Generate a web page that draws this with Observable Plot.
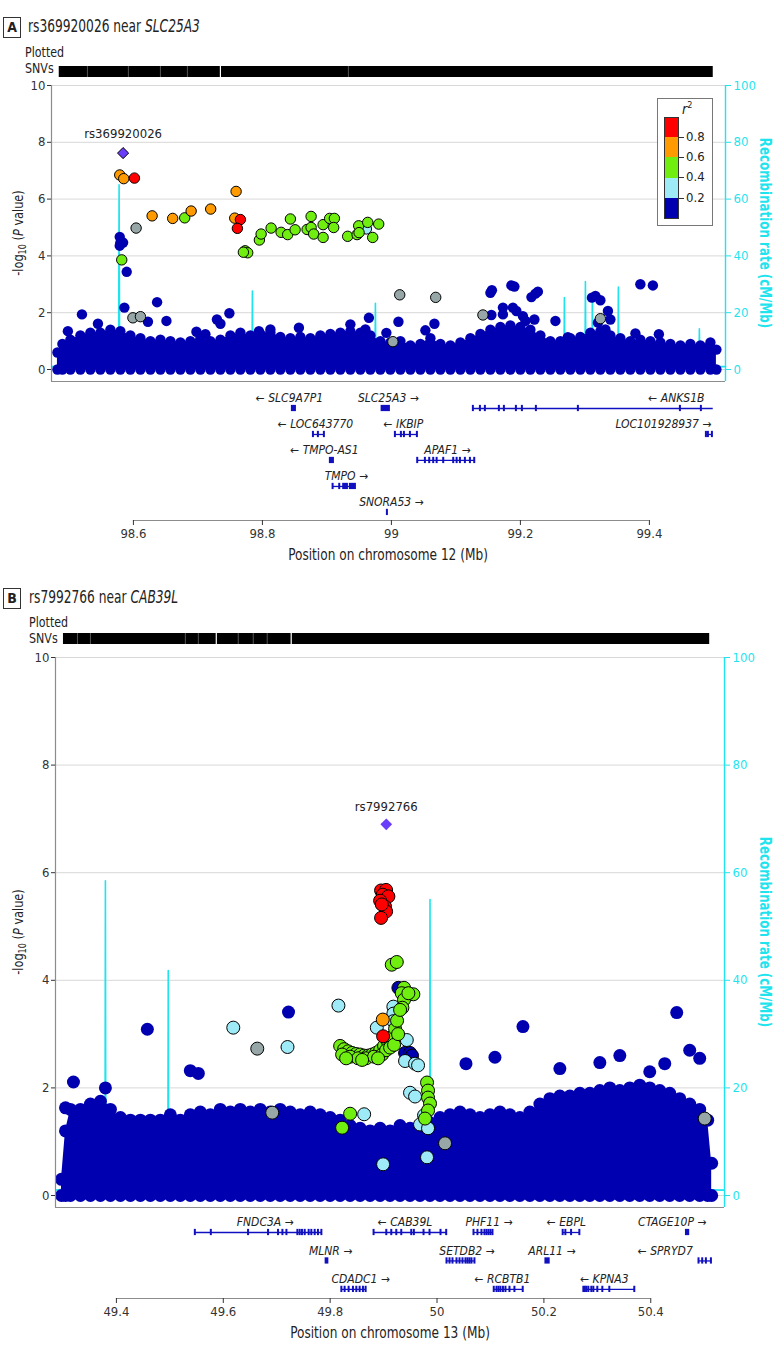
<!DOCTYPE html>
<html><head><meta charset="utf-8">
<script src="https://cdn.jsdelivr.net/npm/d3@7"></script>
<script src="https://cdn.jsdelivr.net/npm/@observablehq/plot@0.6"></script>
<style>
body{margin:0;background:#fff;}
#root{position:relative;width:783px;height:1352px;overflow:hidden;font-family:'DejaVu Sans Condensed','DejaVu Sans',sans-serif;color:#222;}
.a{position:absolute;white-space:nowrap;}
</style></head><body><div id="root"></div>
<script>
// ---------------- DATA ----------------
const FONT = "'DejaVu Sans Condensed','DejaVu Sans',sans-serif";
const yTicks = [0, 2, 4, 6, 8, 10];
const ldDomain = [-1, 0, 1, 2, 3, 4];
const ldColors = ["#97A7A8", "#0000B0", "#9EEBF7", "#70EE10", "#FF9A00", "#FF0000"];
const r2Breaks = ["0.8", "0.6", "0.4", "0.2"];
const cyan = "#1FE4EE";

// Panel A: chr12
const titleA = "rs369920026";
const geneTitleA = "SLC25A3";
const leadA = {pos: 98.5840, logp: 7.62};
const posTicksA = [98.6, 98.8, 99.0, 99.2, 99.4];
const snvSpanA = [98.485, 99.499];
const snvGapsA = [98.5287, 98.5922, 98.6419, 98.6837, 98.9333];
const snvWideGapsA = [98.7349];
const posA = [98.5788,98.5850,98.6016,98.6042,98.5819,98.6290,98.6609,98.6795,98.6895,98.7198,98.7592,98.7571,98.7659,98.7612,98.7732,98.7772,98.7705,98.7953,98.7980,98.8135,98.8290,98.8392,98.8434,98.8507,98.8693,98.8755,98.8755,98.8795,98.8941,98.8941,98.9043,98.9116,98.9105,98.9322,98.9468,98.9493,98.9499,98.9612,98.9633,98.9710,98.9803,99.0129,99.0687,98.5992,98.6109,99.0023,99.1419,99.3240,
 98.5788,98.5798,98.5840,98.5788,98.5896,98.5860,98.6367,98.5202,98.6225,98.6512,98.5450,98.7295,98.7349,98.7488,98.6977,98.7116,98.7946,98.8124,98.8566,98.9364,98.9651,98.9597,98.9922,99.0109,99.0667,99.0527,99.1535,99.1558,99.1860,99.1907,99.1550,99.1729,99.1729,99.1884,99.1938,99.2039,99.2078,99.2217,99.2233,99.2271,99.2171,99.2543,99.2736,99.3109,99.3163,99.3240,99.3202,99.3318,99.3357,99.3395,99.3860,99.4054,99.3783,99.4147,98.4984];
const logpA = [6.85,6.72,6.74,4.98,3.86,5.41,5.32,5.34,5.58,5.65,6.27,5.33,5.28,4.97,4.18,4.11,4.13,4.56,4.77,4.98,4.83,4.75,5.30,4.92,4.93,5.39,5.00,4.77,4.65,5.10,5.32,5.32,5.00,4.69,4.75,5.06,4.82,4.95,5.18,4.65,5.12,2.63,2.54,1.82,1.86,0.98,1.92,1.79,
 4.67,4.47,4.47,4.36,3.44,2.18,2.37,1.94,1.68,1.71,1.61,1.76,1.61,1.98,1.33,1.24,1.35,1.41,1.47,1.59,1.82,1.41,1.29,1.68,1.61,1.38,2.70,2.79,2.96,2.92,1.92,2.18,1.94,2.18,2.06,1.88,1.71,1.76,2.67,2.74,2.55,1.71,1.14,2.53,2.59,2.44,1.65,1.41,2.06,1.76,3.00,2.96,1.27,1.24,1.35];
const ldA = [3,3,4,-1,2,3,3,2,3,3,3,3,4,4,2,2,2,2,2,2,2,2,2,2,2,2,2,2,2,2,2,2,2,2,2,2,2,1,2,2,2,-1,-1,-1,-1,-1,-1,-1,
 0,0,0,0,0,0,0,0,0,0,0,0,0,0,0,0,0,0,0,0,0,0,0,0,0,0,0,0,0,0,0,0,0,0,0,0,0,0,0,0,0,0,0,0,0,0,0,0,0,0,0,0,0,0,0];
// top edge of the dense cloud of low-significance SNVs
const massPosA = [98.4822,98.4899,98.5023,98.5178,98.5333,98.5488,98.5643,98.5798,98.5953,98.6109,98.6264,98.6419,98.6574,98.6729,98.6884,98.7039,98.7194,98.7349,98.7504,98.7659,98.7814,98.7969,98.8124,98.8279,98.8434,98.8589,98.8744,98.8899,98.9054,98.9209,98.9364,98.9519,98.9674,98.9829,98.9984,99.0140,99.0295,99.0450,99.0605,99.0760,99.0915,99.1070,99.1225,99.1380,99.1535,99.1690,99.1845,99.2000,99.2155,99.2310,99.2465,99.2620,99.2775,99.2930,99.3085,99.3240,99.3395,99.3550,99.3705,99.3860,99.4016,99.4171,99.4326,99.4481,99.4636,99.4791,99.4946,99.5039];
const massTopA = [0.6,0.9,1.05,1.2,1.3,1.3,1.4,1.35,1.2,1.1,1.0,1.05,1.0,0.95,1.0,1.1,1.0,1.05,1.2,1.3,1.2,1.25,1.3,1.15,1.1,1.15,1.1,1.2,1.25,1.3,1.35,1.3,1.2,1.0,0.95,1.0,0.85,0.9,1.1,0.9,0.85,0.95,1.1,1.25,1.4,1.5,1.55,1.5,1.4,1.2,1.0,1.0,1.1,1.15,1.3,1.35,1.2,1.1,1.0,1.05,1.0,0.95,0.9,0.85,0.9,0.85,0.95,0.7];
const recPosA = [98.474,98.577,98.5778,98.5786,98.7838,98.7845,98.7852,98.9745,98.9752,98.9759,99.2458,99.2465,99.2472,99.2675,99.2682,99.2689,99.3001,99.3008,99.3015,99.3109,99.3116,99.3123,99.3512,99.3519,99.3526,99.4768,99.4775,99.4782,99.518];
const recRateA = [1,2,65,3,2,27.6,2,2,23.3,2,1,9.8,2,2,25.3,2,2,31,3,3,26,2,2,29,2,1,14.3,1,1];
const geneNameA = ["SLC9A7P1","SLC25A3","ANKS1B","LOC643770","IKBIP","LOC101928937","TMPO-AS1","APAF1","TMPO","SNORA53"];
const geneStrandA = [-1,1,-1,-1,-1,1,-1,1,1,1];
const geneRowA = [1,1,1,2,2,2,3,3,4,5];
const geneStartA = [98.8465,98.9856,99.1271,98.8791,99.0062,99.4884,98.9054,99.0408,98.9096,98.9938];
const geneEndA = [98.8512,98.9969,99.4990,98.8961,99.0403,99.4977,98.9101,99.1292,98.9442,98.9938];
const geneLabelA = [98.8419,98.9953,99.4419,98.8822,99.0186,99.4217,98.8961,99.0868,98.9302,99.0000];
const exonsA = [
 [[98.8465,98.8512]],
 [[98.9856,98.9969]],
 [[99.1271,99.1271],[99.1380,99.1380],[99.1457,99.1457],[99.1674,99.1674],[99.1752,99.1752],[99.1938,99.1938],[99.2031,99.2031],[99.2248,99.2248],[99.2899,99.2899],[99.4481,99.4481],[99.4806,99.4806]],
 [[98.8791,98.8791],[98.8868,98.8868],[98.8961,98.8961]],
 [[99.0062,99.0062],[99.0155,99.0155],[99.0202,99.0202],[99.0295,99.0295],[99.0403,99.0403]],
 [[99.4884,99.4884],[99.4915,99.4915],[99.4977,99.4977]],
 [[98.9054,98.9101]],
 [[99.0408,99.0408],[99.0527,99.0527],[99.0594,99.0594],[99.0656,99.0656],[99.0709,99.0709],[99.0811,99.0811],[99.0966,99.0966],[99.1019,99.1019],[99.1070,99.1070],[99.1147,99.1147],[99.1225,99.1225],[99.1292,99.1292]],
 [[98.9096,98.9096],[98.9199,98.9199],[98.9260,98.9318],[98.9364,98.9442]],
 [[98.9938,98.9938]]
];

// Panel B: chr13
const titleB = "rs7992766";
const geneTitleB = "CAB39L";
const leadB = {pos: 49.9050, logp: 6.90};
const posTicksB = [49.4, 49.6, 49.8, 50.0, 50.2, 50.4];
const snvSpanB = [49.3009, 50.5103];
const snvGapsB = [49.3271, 49.3514, 49.5290, 49.5533, 49.6280, 49.6561, 49.6822];
const snvWideGapsB = [49.5869, 49.7271];
const posB = [49.8953,49.9047,49.8985,49.9090,49.8935,49.9028,49.9047,49.8953,49.8966,49.8991,
 49.8985,
 49.9153,49.9247,49.9383,49.9340,49.9383,49.9557,49.9352,49.9464,49.9153,49.8187,49.8262,49.8337,49.8411,49.8486,49.8561,49.8636,49.8710,49.8785,49.8860,49.8935,49.9009,49.9084,49.9159,49.9215,49.9252,49.9309,49.8224,49.8374,49.8523,49.8673,49.8822,49.8972,49.9047,49.9122,49.9196,49.9271,49.8299,49.8598,49.8897,49.9813,49.9832,49.9832,49.9869,49.9832,49.9776,49.8374,49.8224,
 49.8155,49.9183,49.9183,49.9183,49.8873,49.9434,49.7202,49.6187,49.9402,49.9589,49.9645,49.9495,49.9589,49.9757,49.9682,49.9832,49.9813,49.8991,49.8636,
 49.6636,49.6916,50.0150,50.5010,
 49.3196,49.3794,49.3794,49.3794,49.4579,49.7221,49.3047,49.5383,49.5533,50.1608,50.0542,50.1084,50.4486,50.3047,50.2299,50.3421,50.4729,50.4916,50.3981,50.4262];
const logpB = [5.67,5.68,5.59,5.56,5.48,5.37,5.28,5.16,5.41,2.96,
 3.27,
 4.29,4.34,3.86,3.76,3.64,3.74,3.49,3.76,2.89,2.78,2.72,2.68,2.65,2.63,2.62,2.60,2.60,2.62,2.65,2.70,2.78,2.85,2.95,3.10,3.25,3.45,2.62,2.58,2.55,2.55,2.58,2.62,2.70,2.75,2.80,3.00,2.55,2.52,2.55,2.10,1.95,1.82,1.71,1.58,1.43,1.52,1.26,
 3.53,3.51,3.38,3.24,3.12,2.89,2.76,3.12,2.50,2.45,2.42,1.91,1.84,1.49,1.32,1.25,0.71,0.58,1.51,
 2.73,1.54,0.97,1.43,
 2.11,2.00,1.59,1.38,3.09,3.41,1.63,2.32,2.27,3.14,2.45,2.57,3.40,2.47,2.36,2.60,2.70,2.55,2.30,2.45];
const ldB = [4,4,4,4,4,4,4,4,4,4,
 3,
 2,2,2,2,2,2,2,2,2,2,2,2,2,2,2,2,2,2,2,2,2,2,2,2,2,2,2,2,2,2,2,2,2,2,2,2,2,2,2,2,2,2,2,2,2,2,2,
 1,1,1,1,1,1,1,1,1,1,1,1,1,1,1,1,1,1,1,
 -1,-1,-1,-1,
 0,0,0,0,0,0,0,0,0,0,0,0,0,0,0,0,0,0,0,0];
const outlinedPosB = [49.8280,49.8561,49.9402,49.9495,49.9533,49.8966,49.9277];
const outlinedLogpB = [2.70,2.60,2.65,2.65,2.60,5.45,3.86];
const massPosB = [49.2972,49.3047,49.3140,49.3327,49.3514,49.3701,49.3888,49.4075,49.4262,49.4449,49.4636,49.4822,49.5009,49.5196,49.5383,49.5570,49.5757,49.5944,49.6131,49.6318,49.6505,49.6692,49.6879,49.7065,49.7252,49.7439,49.7626,49.7813,49.8000,49.8187,49.8374,49.8561,49.8748,49.8935,49.9121,49.9308,49.9495,49.9682,49.9869,50.0056,50.0243,50.0430,50.0617,50.0804,50.0991,50.1178,50.1364,50.1551,50.1738,50.1925,50.2112,50.2299,50.2486,50.2673,50.2860,50.3047,50.3234,50.3421,50.3607,50.3794,50.3981,50.4168,50.4355,50.4542,50.4729,50.4916,50.5065,50.5140];
const massTopB = [0.3,1.2,1.6,1.6,1.7,1.75,1.6,1.45,1.4,1.4,1.4,1.4,1.5,1.4,1.5,1.55,1.5,1.6,1.55,1.6,1.55,1.6,1.55,1.6,1.55,1.5,1.55,1.5,1.45,1.4,1.3,1.25,1.2,1.25,1.2,1.3,1.25,1.2,1.35,1.45,1.5,1.55,1.5,1.45,1.5,1.55,1.5,1.45,1.55,1.7,1.8,1.85,1.85,1.9,1.9,1.95,2.0,1.95,2.0,2.05,2.0,1.95,1.9,1.8,1.7,1.6,1.4,0.6];
const recPosB = [49.287,49.3786,49.3794,49.3802,49.4962,49.4970,49.4978,49.9861,49.9869,49.9877,50.538];
const recRateB = [1,2,58.5,2,2,41.8,2,2,55,2,1];
const geneNameB = ["FNDC3A","CAB39L","PHF11","EBPL","CTAGE10P","MLNR","SETDB2","ARL11","SPRYD7","CDADC1","RCBTB1","KPNA3"];
const geneStrandB = [1,-1,1,-1,1,1,1,1,-1,1,-1,-1];
const geneRowB = [1,1,1,1,1,2,2,2,2,3,3,3];
const geneStartB = [49.5477,49.8822,50.0692,50.2361,50.4668,49.7925,50.0187,50.2038,50.4903,49.8219,50.1071,50.2748];
const geneEndB = [49.7845,50.0181,50.1047,50.2673,50.4710,49.7957,50.0710,50.2099,50.5135,49.8673,50.1613,50.3701];
const geneLabelB = [49.6785,49.9402,50.0972,50.2421,50.4402,49.8009,50.0561,50.2150,50.4271,49.8570,50.1224,50.3131];
const exonsB = [
 [[49.5477,49.5477],[49.5776,49.5776],[49.6473,49.6473],[49.6847,49.6847],[49.7034,49.7034],[49.7116,49.7116],[49.7191,49.7191],[49.7396,49.7396],[49.7439,49.7439],[49.7482,49.7482],[49.7533,49.7533],[49.7607,49.7607],[49.7657,49.7657],[49.7720,49.7720],[49.7781,49.7781],[49.7845,49.7845]],
 [[49.8822,49.8822],[49.9060,49.9060],[49.9153,49.9153],[49.9247,49.9247],[49.9340,49.9340],[49.9527,49.9527],[49.9576,49.9576],[49.9757,49.9757],[49.9869,49.9869],[50.0075,50.0075],[50.0181,50.0181]],
 [[50.0692,50.0692],[50.0766,50.0766],[50.0841,50.0841],[50.0897,50.0897],[50.0935,50.0935],[50.0972,50.0972],[50.1009,50.1009],[50.1047,50.1047]],
 [[50.2361,50.2361],[50.2411,50.2411],[50.2518,50.2518],[50.2673,50.2673]],
 [[50.4668,50.4710]],
 [[49.7925,49.7957]],
 [[50.0187,50.0187],[50.0243,50.0243],[50.0299,50.0299],[50.0374,50.0374],[50.0430,50.0430],[50.0486,50.0486],[50.0542,50.0542],[50.0580,50.0580],[50.0617,50.0617],[50.0654,50.0654],[50.0710,50.0710]],
 [[50.2038,50.2099]],
 [[50.4903,50.4903],[50.4972,50.4972],[50.5041,50.5041],[50.5135,50.5135]],
 [[49.8219,49.8219],[49.8280,49.8280],[49.8355,49.8355],[49.8436,49.8436],[49.8499,49.8499],[49.8561,49.8561],[49.8623,49.8623],[49.8673,49.8673]],
 [[50.1071,50.1071],[50.1122,50.1122],[50.1159,50.1159],[50.1196,50.1196],[50.1243,50.1243],[50.1290,50.1290],[50.1365,50.1365],[50.1458,50.1458],[50.1613,50.1613]],
 [[50.2748,50.2748],[50.2776,50.2776],[50.2804,50.2804],[50.2841,50.2841],[50.2897,50.2897],[50.2935,50.2935],[50.3009,50.3009],[50.3103,50.3103],[50.3234,50.3234],[50.3701,50.3701]]
];

// ---------------- LAYOUT HELPERS ----------------
const root = document.getElementById("root");
function put(node, left, top) { node.style.position = "absolute"; node.style.left = left + "px"; node.style.top = top + "px"; root.appendChild(node); return node; }
function html(s, left, top, style = "") { const d = document.createElement("div"); d.className = "a"; d.innerHTML = s; d.style.cssText += style; return put(d, left, top); }

function header(letter, rsid, gene, top, textLeft, plottedLeft, plottedTop) {
  html(letter, 3, top, "width:16px;height:19px;border:1px solid #333;text-align:center;font:bold 14px/19px " + FONT + ";");
  html(rsid + " near <i>" + gene + "</i>", textLeft, top - 1, "font-size:17px;line-height:21px;transform:scaleX(0.8);transform-origin:0 50%;");
  html("Plotted", plottedLeft, plottedTop, "font-size:14px;line-height:16px;transform:scaleX(0.88);transform-origin:0 50%;");
  html("SNVs", plottedLeft, plottedTop + 16, "font-size:14px;line-height:16px;transform:scaleX(0.88);transform-origin:0 50%;");
}

function snvBar(span, gaps, wide, xDomain, ml, mr, top, h) {
  const svg = Plot.plot({
    width: 783, height: h, marginLeft: ml, marginRight: mr, marginTop: 0, marginBottom: 0,
    style: {background: "transparent"},
    x: {domain: xDomain, axis: null},
    marks: [
      Plot.rect([{s: span[0], e: span[1]}], {x1: "s", x2: "e", fill: "#000"}),
      Plot.ruleX(gaps, {stroke: "#6a6a6a", strokeWidth: 0.8}),
      Plot.ruleX(wide, {stroke: "#fff", strokeWidth: 1.2})
    ]
  });
  put(svg, 0, top);
}

function scatter(o) {
  const pts = o.pos.map((p, i) => ({pos: p, logp: o.logp[i], ld: o.ld[i]}))
    .sort((a, b) => (a.ld === -1 ? 0.5 : a.ld) - (b.ld === -1 ? 0.5 : b.ld));
  const mass = o.massPos.map((p, i) => ({pos: p, top: o.massTop[i]}));
  const rec = o.recPos.map((p, i) => ({pos: p, rate: o.recRate[i]}));
  const outlined = (o.outPos || []).map((p, i) => ({pos: p, logp: o.outLogp[i], ld: 0}));
  const svg = Plot.plot({
    width: 783, height: o.height, marginLeft: o.ml, marginRight: o.mr, marginTop: o.mt, marginBottom: 2,
    style: {fontFamily: FONT, fontSize: "13px", color: "#222", background: "transparent"},
    x: {domain: o.xDomain, axis: null},
    y: {domain: [o.yMin, 10]},
    color: {type: "ordinal", domain: ldDomain, range: ldColors},
    marks: [
      Plot.ruleY(yTicks, {stroke: "#d8d8d8", strokeWidth: 1}),
      Plot.line(rec, {x: "pos", y: d => d.rate / 10, stroke: cyan, strokeWidth: 1.6}),
      Plot.areaY(mass, {x: "pos", y1: 0, y2: "top", fill: ldColors[1]}),
      Plot.dot(mass, {x: "pos", y: "top", r: o.r, fill: ldColors[1]}),
      Plot.dot(mass, {x: "pos", y: 0, r: o.r, fill: ldColors[1]}),
      Plot.dot(pts.filter(d => d.ld === 0), {x: "pos", y: "logp", r: o.r, fill: "ld"}),
      Plot.dot(outlined, {x: "pos", y: "logp", r: o.r, fill: "ld", stroke: "#000", strokeWidth: 1}),
      Plot.dot(pts.filter(d => d.ld !== 0), {x: "pos", y: "logp", r: o.r, fill: "ld", stroke: "#000", strokeWidth: 1}),
      Plot.dot([o.lead], {x: "pos", y: "logp", r: o.leadR, symbol: "diamond2", fill: "#6A3DFA", stroke: o.leadStroke, strokeWidth: 1}),
      Plot.text([o.lead], {x: "pos", y: "logp", text: () => o.leadLabel, dy: o.leadDy, fontSize: 13, fill: "#222"}),
      Plot.ruleX([o.xDomain[0]], {stroke: "#8c8c8c", strokeWidth: 1.2}),
      Plot.ruleY([o.yMin], {stroke: "#8c8c8c", strokeWidth: 1.2}),
      Plot.ruleX([o.xDomain[1]], {stroke: cyan, strokeWidth: 1.4}),
      Plot.axisY(yTicks, {anchor: "left", tickSize: 4, tickPadding: 2, label: null, tickFormat: d => String(d), color: "#333"}),
      Plot.axisY(yTicks, {anchor: "right", tickSize: 5, tickPadding: 3, label: null, tickFormat: d => String(d * 10), color: cyan})
    ]
  });
  put(svg, 0, o.top);
  const cy = o.mt + o.top + (o.height - 2 - o.mt) / 2;
  html("-log<sub style='font-size:10px'>10</sub> (<i>P</i> value)", 19, cy, "transform:translate(-50%,-50%) rotate(-90deg) scaleX(0.9);font-size:14px;");
  html("Recombination rate (cM/Mb)", 765, cy, "transform:translate(-50%,-50%) rotate(90deg) scaleX(0.88);font-size:15px;font-weight:bold;color:" + cyan + ";");
}

function genes(o) {
  const g = o.names.map((n, i) => ({name: n, strand: o.strand[i], row: o.row[i], s: o.start[i], e: o.end[i], lab: o.label[i]}));
  const ex = o.exons.flatMap((list, i) => list.map(([s, e]) => ({s, e, row: o.row[i]})));
  const svg = Plot.plot({
    width: 783, height: o.height, marginLeft: o.ml, marginRight: o.mr, marginTop: 0, marginBottom: o.height - o.rangeBottom,
    style: {fontFamily: FONT, fontSize: "13px", color: "#222", background: "transparent"},
    x: {domain: o.xDomain},
    y: {domain: [1, o.axisRow], range: [o.rangeTop, o.rangeBottom], axis: null},
    marks: [
      Plot.ruleY(g, {y: "row", x1: "s", x2: "e", stroke: "#1010C0", strokeWidth: 1.3}),
      Plot.rect(ex, {x1: "s", x2: "e", y1: d => d.row - o.exonH, y2: d => d.row + o.exonH, fill: "#1010C0", insetLeft: -1, insetRight: -1}),
      Plot.text(g, {x: "lab", y: "row", dy: -10, text: d => d.strand > 0 ? d.name + " \u2192" : "\u2190 " + d.name, fontSize: 12, fontStyle: "italic", fill: "#222"}),
      Plot.ruleY([o.axisRow], {x1: o.ticks[0], x2: o.ticks[o.ticks.length - 1], stroke: "#8c8c8c", strokeWidth: 1.2}),
      Plot.axisX(o.ticks, {tickSize: 5, tickPadding: 3, label: null, tickFormat: d => String(+d.toFixed(1)), color: "#333"})
    ]
  });
  put(svg, 0, o.top);
  html(o.title, (o.ml + 783 - o.mr) / 2, o.titleY, "transform:translate(-50%,-50%) scaleX(0.9);font-size:15px;");
}

// ---------------- PANEL A ----------------
const xDomA = [98.473, 99.518];
header("A", titleA, geneTitleA, 17, 28, 25, 44);
snvBar(snvSpanA, snvGapsA, snvWideGapsA, xDomA, 51, 58, 66, 11);
scatter({pos: posA, logp: logpA, ld: ldA, massPos: massPosA, massTop: massTopA, recPos: recPosA, recRate: recRateA,
  xDomain: xDomA, ml: 51, mr: 58, mt: 12, top: 73, height: 310, yMin: -0.4225, r: 5.2,
  lead: leadA, leadR: 5, leadStroke: "#000", leadLabel: titleA, leadDy: -19});
// legend (r^2)
(function () {
  html("", 657, 98, "width:54px;height:126px;border:1px solid #777;background:#fff;");
  html("<i>r</i><sup style='font-size:9px'>2</sup>", 682, 98, "font-size:14px;line-height:15px;");
  const cols = ldColors.slice(1).reverse();
  cols.forEach((c, i) => html("", 664, 117 + i * 20.2, `width:14px;height:20.2px;background:${c};`));
  html("", 664, 117, "width:13px;height:100px;border:1px solid #333;");
  r2Breaks.forEach((b, i) => {
    html("", 678, 137 + i * 20.2, "width:6px;height:1px;background:#333;");
    html(b, 686, 137 + i * 20.2 - 8, "font-size:13px;line-height:16px;");
  });
})();
genes({names: geneNameA, strand: geneStrandA, row: geneRowA, start: geneStartA, end: geneEndA, label: geneLabelA, exons: exonsA,
  xDomain: xDomA, ml: 51, mr: 58, top: 383, height: 162, rangeTop: 25, rangeBottom: 137, axisRow: 5.31, exonH: 0.12,
  ticks: posTicksA, title: "Position on chromosome 12 (Mb)", titleY: 555});

// ---------------- PANEL B ----------------
const xDomB = [49.286, 50.538];
header("B", titleB, geneTitleB, 588, 29, 29, 614);
snvBar(snvSpanB, snvGapsB, snvWideGapsB, xDomB, 55, 59, 633, 11);
scatter({pos: posB, logp: logpB, ld: ldB, outPos: outlinedPosB, outLogp: outlinedLogpB, massPos: massPosB, massTop: massTopB, recPos: recPosB, recRate: recRateB,
  xDomain: xDomB, ml: 55, mr: 59, mt: 12, top: 645, height: 564, yMin: -0.223, r: 6.5,
  lead: leadB, leadR: 5.3, leadStroke: "none", leadLabel: titleB, leadDy: -17});
genes({names: geneNameB, strand: geneStrandB, row: geneRowB, start: geneStartB, end: geneEndB, label: geneLabelB, exons: exonsB,
  xDomain: xDomB, ml: 55, mr: 59, top: 1209, height: 143, rangeTop: 23, rangeBottom: 89, axisRow: 3.32, exonH: 0.11,
  ticks: posTicksB, title: "Position on chromosome 13 (Mb)", titleY: 1333});
</script></body></html>
